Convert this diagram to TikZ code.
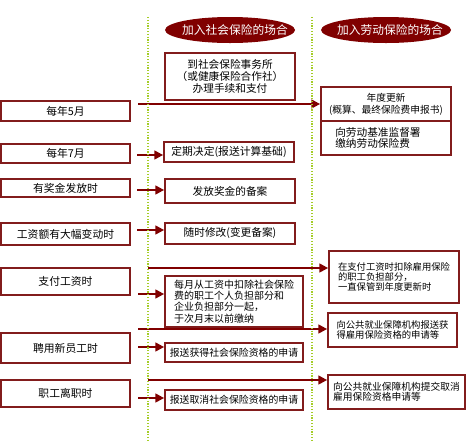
\documentclass[tikz,border=0pt]{standalone}
\usepackage{fontspec}
\setmainfont{Noto Sans CJK SC}
\usetikzlibrary{shapes.geometric,arrows.meta}
\definecolor{bordc}{RGB}{130,28,28}
\definecolor{arrc}{RGB}{128,0,0}
\definecolor{hdrc}{RGB}{128,0,0}
\definecolor{guidec}{RGB}{165,205,40}
\begin{document}
\begin{tikzpicture}[x=0.75pt,y=-0.75pt,
  box/.style={draw=bordc, line width=1.3pt, inner sep=0pt, fill=white},
  sz/.style 2 args={minimum width={#1*0.75pt}, minimum height={#2*0.75pt}},
  lbox/.style={box, font=\fontsize{8.1}{9}\selectfont},
  hdr/.style={ellipse, fill=hdrc, inner sep=0pt, minimum width={130*0.75pt}, minimum height={26*0.75pt}},
  hdrtext/.style={text=white, inner sep=0pt, font=\fontsize{8.8}{10}\selectfont},
  arr/.style={draw=arrc, line width=1.5pt, -{Triangle[length=6.5pt,width=6.5pt]}},
  guide/.style={draw=guidec, line width=0.9pt, dash pattern=on 0.9pt off 1.2pt},
  txt/.style={inner sep=0pt, align=left}]
\useasboundingbox (0,0) rectangle (467,440);

% headers
\node[hdr] (h1) at (230,30) {};
\node[hdrtext] (h1t) at (235,30) {加入社会保险的场合};
\node[hdr] (h2) at (386,30) {};
\node[hdrtext] (h2t) at (390,30) {加入劳动保险的场合};

% left column
\node[lbox, sz={129}{20}] (m5) at (65.5,111) {每年5月};
\node[lbox, sz={129}{19}] (m7) at (65.5,153.5) {每年7月};
\node[lbox, sz={129}{18}] (bon) at (65.5,188) {有奖金发放时};
\node[lbox, sz={129}{22}] (chg) at (65.5,234) {工资额有大幅变动时};
\node[lbox, sz={129}{27}] (pay) at (65.5,281.5) {支付工资时};
\node[lbox, sz={129}{30}] (hire) at (65.5,348) {聘用新员工时};
\node[lbox, sz={129}{27}] (quit) at (65.5,393.5) {职工离职时};

% middle column
\node[box, sz={130}{47}, align=center, font=\fontsize{8}{9}\selectfont] (soc) at (230,76.5)
  {到社会保险事务所\\（或健康保险合作社）\\办理手续和支付};
\node[box, sz={130}{20}, font=\fontsize{8.1}{9}\selectfont] (def) at (229,152) {定期决定(报送计算基础)};
\node[box, sz={130}{24}, font=\fontsize{8}{9}\selectfont] (bonrec) at (230,191) {发放奖金的备案};
\node[box, sz={130}{21}, font=\fontsize{8}{9}\selectfont] (rev) at (230,233.5) {随时修改(变更备案)};
\node[box, sz={138}{51}, align=left, font=\fontsize{7.5}{8.5}\selectfont] (mon) at (234,301.5)
  {每月从工资中扣除社会保险\\费的职工个人负担部分和\\企业负担部分一起，\\于次月末以前缴纳};
\node[box, sz={138}{19}, font=\fontsize{7.4}{8.5}\selectfont] (get) at (234,352.5) {报送获得社会保险资格的申请};
\node[box, sz={138}{20}, font=\fontsize{7.4}{8.5}\selectfont] (can) at (234,400) {报送取消社会保险资格的申请};

% right column
\node[box, sz={130}{34}, align=center, font=\fontsize{7.3}{9}\selectfont] (ann) at (386,104)
  {年度更新\\(概算、最终保险费申报书)};
\node[box, sz={130}{34}] (ann2) at (386,138) {};
\node[txt, anchor=west, font=\fontsize{8}{8.3}\selectfont] (ann2t) at (335,138)
  {向劳动基准监督署\\缴纳劳动保险费};
\node[box, sz={130}{52}, align=left, font=\fontsize{7}{7.6}\selectfont] (wage) at (394,277)
  {在支付工资时扣除雇用保险\\的职工负担部分，\\一直保管到年度更新时};
\node[box, sz={129}{34}, align=left, font=\fontsize{7}{7.6}\selectfont] (emp1) at (392.5,330)
  {向公共就业保障机构报送获\\得雇用保险资格的申请等};
\node[box, sz={137}{34}, align=left, font=\fontsize{7.3}{7.8}\selectfont] (emp2) at (396.5,392)
  {向公共就业保障机构提交取消\\雇用保险资格申请等};

% connectors
\coordinate (s1) at (138,104);
\draw[arr] (s1) -- (s1 -| ann.west);
\coordinate (s2) at (137,155);
\draw[arr] (s2) -- (s2 -| def.west);
\coordinate (s3) at (137,190);
\draw[arr] (s3) -- (s3 -| bonrec.west);
\coordinate (s4) at (137,230);
\draw[arr] (s4) -- (s4 -| rev.west);
\coordinate (s5) at (148,268);
\draw[arr] (s5) -- (s5 -| wage.west);
\coordinate (s6) at (138,294);
\draw[arr] (s6) -- (s6 -| mon.west);
\coordinate (s7) at (138,329);
\draw[arr] (s7) -- (s7 -| emp1.west);
\coordinate (s8) at (138,347);
\draw[arr] (s8) -- (s8 -| get.west);
\coordinate (s9) at (148,380);
\draw[arr] (s9) -- (s9 -| emp2.west);
\coordinate (s10) at (138,398);
\draw[arr] (s10) -- (s10 -| can.west);

% guide lines
\draw[guide] (148,17) -- (148,440);
\draw[guide] (312,17) -- (312,440);
\end{tikzpicture}
\end{document}
